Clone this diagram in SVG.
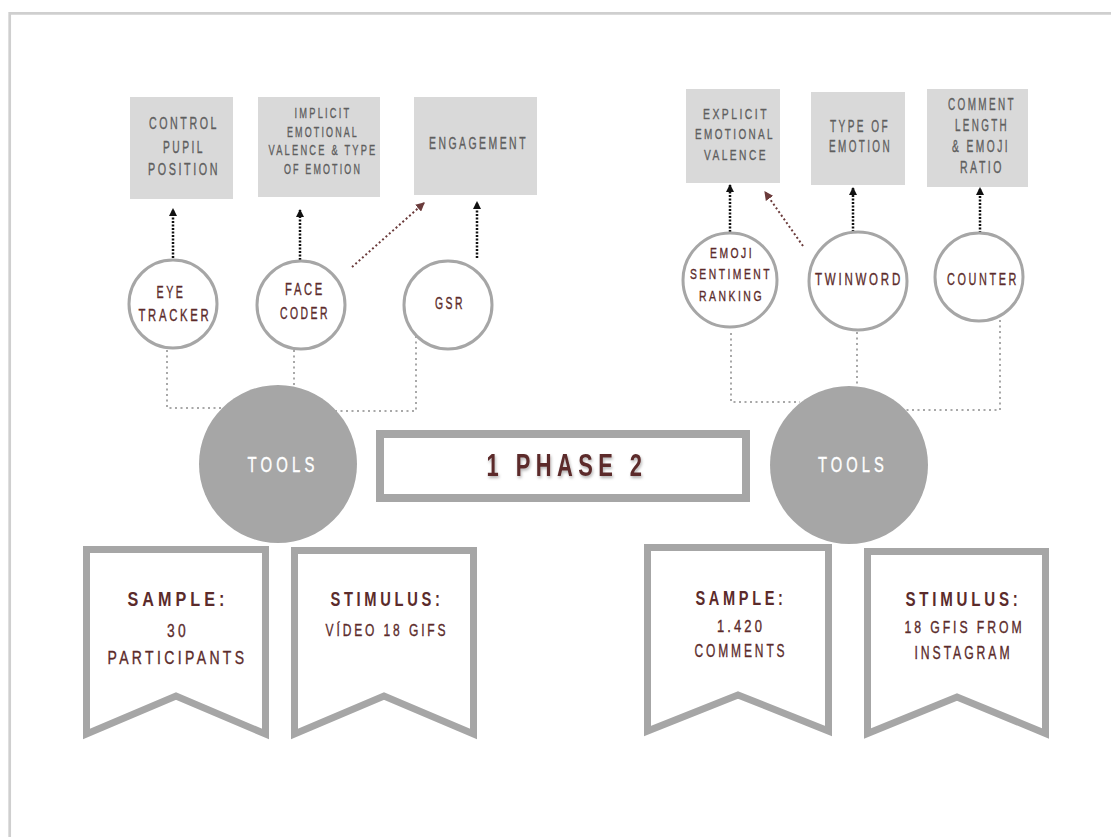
<svg xmlns="http://www.w3.org/2000/svg" width="1111" height="837" viewBox="0 0 1111 837">
<style>
.box{fill:#d9d9d9}
.bt{font-family:"Liberation Sans",Arial,sans-serif;fill:#5e5e5e;stroke:#5e5e5e;stroke-width:0.35;text-anchor:middle;letter-spacing:0.24em}
.ring{fill:#fff;stroke:#a6a6a6;stroke-width:3}
.ct{font-family:"Liberation Sans",Arial,sans-serif;fill:#5b2b2b;stroke:#5b2b2b;stroke-width:0.35;text-anchor:middle;letter-spacing:0.24em}
.tool{fill:#a6a6a6}
.tt{font-family:"Liberation Sans",Arial,sans-serif;fill:#fff;stroke:#fff;stroke-width:0.4;text-anchor:middle;letter-spacing:0.28em;font-size:22px}
.ban{fill:#fff;stroke:#a6a6a6;stroke-width:7;stroke-linejoin:miter}
.hd{font-family:"Liberation Sans",Arial,sans-serif;fill:#5b2b2b;text-anchor:middle;font-weight:bold;letter-spacing:0.25em;font-size:21px}
.st{font-family:"Liberation Sans",Arial,sans-serif;fill:#5b2b2b;stroke:#5b2b2b;stroke-width:0.35;text-anchor:middle;letter-spacing:0.24em}
.dot{fill:none;stroke:#a8a8a8;stroke-width:2;stroke-dasharray:2 3.5}
.up{fill:none;stroke:#111;stroke-width:2.5;stroke-dasharray:2 1.5}
.br{fill:none;stroke:#6b3b3b;stroke-width:2;stroke-dasharray:2 2.5}
</style>
<defs>
<marker id="ab" viewBox="0 0 8 8" refX="7" refY="4" markerWidth="8" markerHeight="8" markerUnits="userSpaceOnUse" orient="auto"><path d="M0,0 L8,4 L0,8 Z" fill="#111"/></marker>
<marker id="ar" viewBox="0 0 8 8" refX="7" refY="4" markerWidth="9" markerHeight="9" markerUnits="userSpaceOnUse" orient="auto"><path d="M0,0 L8,4 L0,8 Z" fill="#6b3b3b"/></marker>
<filter id="sh" x="-10%" y="-30%" width="120%" height="160%"><feDropShadow dx="1" dy="2" stdDeviation="1.5" flood-color="#000" flood-opacity="0.3"/></filter>
</defs>
<rect width="1111" height="837" fill="#fff"/>
<path d="M9.7,837 V13.3 H1111" fill="none" stroke="#cfcfcf" stroke-width="2.7"/>

<g id="connectors">
<path class="dot" d="M167,350 V408 H240"/>
<path class="dot" d="M294,350 V392"/>
<path class="dot" d="M416,336 V411 H320"/>
<path class="dot" d="M731,333 V402 H800"/>
<path class="dot" d="M857,332 V392"/>
<path class="dot" d="M1000,320 V410 H900"/>
<path class="up" d="M173,258 V209" marker-end="url(#ab)"/>
<path class="up" d="M300,260 V210" marker-end="url(#ab)"/>
<path class="br" d="M352,267 L424,203" marker-end="url(#ar)"/>
<path class="up" d="M477,258 V202" marker-end="url(#ab)"/>
<path class="up" d="M730,232 V185" marker-end="url(#ab)"/>
<path class="br" d="M803,246 L765,192" marker-end="url(#ar)"/>
<path class="up" d="M853,232 V188" marker-end="url(#ab)"/>
<path class="up" d="M980,233 V188" marker-end="url(#ab)"/>
</g>

<g id="box-control-pupil">
<rect class="box" x="130" y="97" width="103" height="102"/>
<text class="bt" font-size="16" x="184" y="128.7" textLength="70" lengthAdjust="spacingAndGlyphs">CONTROL</text>
<text class="bt" font-size="16" x="184" y="152.7" textLength="42" lengthAdjust="spacingAndGlyphs">PUPIL</text>
<text class="bt" font-size="16" x="184" y="174.7" textLength="72" lengthAdjust="spacingAndGlyphs">POSITION</text>
</g>
<g id="box-implicit">
<rect class="box" x="258" y="97" width="122" height="100"/>
<text class="bt" font-size="14" x="323" y="118" textLength="57" lengthAdjust="spacingAndGlyphs">IMPLICIT</text>
<text class="bt" font-size="14" x="323" y="137" textLength="72" lengthAdjust="spacingAndGlyphs">EMOTIONAL</text>
<text class="bt" font-size="14" x="323" y="155" textLength="109" lengthAdjust="spacingAndGlyphs">VALENCE &amp; TYPE</text>
<text class="bt" font-size="14" x="323" y="174" textLength="78" lengthAdjust="spacingAndGlyphs">OF EMOTION</text>
</g>
<g id="box-engagement">
<rect class="box" x="414" y="97" width="123" height="98"/>
<text class="bt" font-size="16" x="478.5" y="148.7" textLength="99" lengthAdjust="spacingAndGlyphs">ENGAGEMENT</text>
</g>
<g id="box-explicit">
<rect class="box" x="686" y="89" width="94" height="94"/>
<text class="bt" font-size="15" x="736" y="119" textLength="66" lengthAdjust="spacingAndGlyphs">EXPLICIT</text>
<text class="bt" font-size="15" x="735" y="139.4" textLength="80" lengthAdjust="spacingAndGlyphs">EMOTIONAL</text>
<text class="bt" font-size="15" x="736" y="160.4" textLength="64" lengthAdjust="spacingAndGlyphs">VALENCE</text>
</g>
<g id="box-type">
<rect class="box" x="811" y="92" width="94" height="93"/>
<text class="bt" font-size="16" x="860" y="131.7" textLength="60" lengthAdjust="spacingAndGlyphs">TYPE OF</text>
<text class="bt" font-size="16" x="860.5" y="151.7" textLength="63" lengthAdjust="spacingAndGlyphs">EMOTION</text>
</g>
<g id="box-comment">
<rect class="box" x="927" y="89" width="101" height="98"/>
<text class="bt" font-size="16" x="982" y="109.7" textLength="68" lengthAdjust="spacingAndGlyphs">COMMENT</text>
<text class="bt" font-size="16" x="982" y="130.7" textLength="54" lengthAdjust="spacingAndGlyphs">LENGTH</text>
<text class="bt" font-size="16" x="981" y="151.7" textLength="58" lengthAdjust="spacingAndGlyphs">&amp; EMOJI</text>
<text class="bt" font-size="16" x="982" y="172.7" textLength="44" lengthAdjust="spacingAndGlyphs">RATIO</text>
</g>

<g id="eye-tracker">
<circle class="ring" cx="173" cy="304" r="44"/>
<text class="ct" font-size="16" x="171" y="297.7" textLength="29" lengthAdjust="spacingAndGlyphs">EYE</text>
<text class="ct" font-size="16" x="175" y="320.7" textLength="73" lengthAdjust="spacingAndGlyphs">TRACKER</text>
</g>
<g id="face-coder">
<circle class="ring" cx="301" cy="305" r="44"/>
<text class="ct" font-size="16" x="305" y="294.7" textLength="40" lengthAdjust="spacingAndGlyphs">FACE</text>
<text class="ct" font-size="16" x="305" y="318.7" textLength="50" lengthAdjust="spacingAndGlyphs">CODER</text>
</g>
<g id="gsr">
<circle class="ring" cx="448" cy="305" r="44"/>
<text class="ct" font-size="16" x="450" y="308.7" textLength="30" lengthAdjust="spacingAndGlyphs">GSR</text>
</g>
<g id="emoji-ranking">
<circle class="ring" cx="730" cy="280" r="47"/>
<text class="ct" font-size="15" x="732" y="258.4" textLength="44" lengthAdjust="spacingAndGlyphs">EMOJI</text>
<text class="ct" font-size="15" x="731" y="279.4" textLength="82" lengthAdjust="spacingAndGlyphs">SENTIMENT</text>
<text class="ct" font-size="15" x="731.5" y="301.4" textLength="65" lengthAdjust="spacingAndGlyphs">RANKING</text>
</g>
<g id="twinword">
<circle class="ring" cx="858" cy="281" r="49"/>
<text class="ct" font-size="17" x="859" y="285.1" textLength="88" lengthAdjust="spacingAndGlyphs">TWINWORD</text>
</g>
<g id="counter">
<circle class="ring" cx="979" cy="277" r="44"/>
<text class="ct" font-size="17" x="983" y="285.1" textLength="72" lengthAdjust="spacingAndGlyphs">COUNTER</text>
</g>

<g id="tools-left">
<circle class="tool" cx="278" cy="464" r="79"/>
<text class="tt" x="283" y="471.9" textLength="71" lengthAdjust="spacingAndGlyphs">TOOLS</text>
</g>
<g id="tools-right">
<circle class="tool" cx="849" cy="465" r="79"/>
<text class="tt" x="853" y="471.9" textLength="70" lengthAdjust="spacingAndGlyphs">TOOLS</text>
</g>

<g id="phase">
<rect x="380" y="434" width="366" height="64" fill="#fff" stroke="#a6a6a6" stroke-width="8"/>
<text x="567" y="475.5" font-family="'Liberation Sans',Arial,sans-serif" font-weight="bold" font-size="32" fill="#5b2b2b" text-anchor="middle" letter-spacing="0.25em" textLength="161" lengthAdjust="spacingAndGlyphs" filter="url(#sh)">1 PHASE 2</text>
</g>

<g id="sample-left">
<path class="ban" d="M86.5,549.5 H265.5 V734 L176,696 L86.5,734 Z"/>
<text class="hd" x="178" y="605.5" textLength="101" lengthAdjust="spacingAndGlyphs">SAMPLE:</text>
<text class="st" font-size="18" x="178" y="636.5" textLength="22" lengthAdjust="spacingAndGlyphs">30</text>
<text class="st" font-size="18" x="177.5" y="663.5" textLength="140" lengthAdjust="spacingAndGlyphs">PARTICIPANTS</text>
</g>
<g id="stimulus-left">
<path class="ban" d="M294.5,550.5 H473.5 V734 L384,696 L294.5,734 Z"/>
<text class="hd" x="387" y="605.5" textLength="113" lengthAdjust="spacingAndGlyphs">STIMULUS:</text>
<text class="st" font-size="17" x="387" y="636" textLength="123" lengthAdjust="spacingAndGlyphs">VÍDEO 18 GIFS</text>
</g>
<g id="sample-right">
<path class="ban" d="M647.5,547.5 H828.5 V731 L738,695 L647.5,731 Z"/>
<text class="hd" x="741" y="604.5" textLength="91" lengthAdjust="spacingAndGlyphs">SAMPLE:</text>
<text class="st" font-size="17" x="741" y="632" textLength="48" lengthAdjust="spacingAndGlyphs">1.420</text>
<text class="st" font-size="18" x="741" y="656.5" textLength="93" lengthAdjust="spacingAndGlyphs">COMMENTS</text>
</g>
<g id="stimulus-right">
<path class="ban" d="M867.5,551.5 H1045.5 V733.5 L957,697 L867.5,733.5 Z"/>
<text class="hd" x="963.5" y="605.5" textLength="116" lengthAdjust="spacingAndGlyphs">STIMULUS:</text>
<text class="st" font-size="17" x="964.5" y="633" textLength="120" lengthAdjust="spacingAndGlyphs">18 GFIS FROM</text>
<text class="st" font-size="18" x="963.5" y="658.5" textLength="98" lengthAdjust="spacingAndGlyphs">INSTAGRAM</text>
</g>
</svg>
